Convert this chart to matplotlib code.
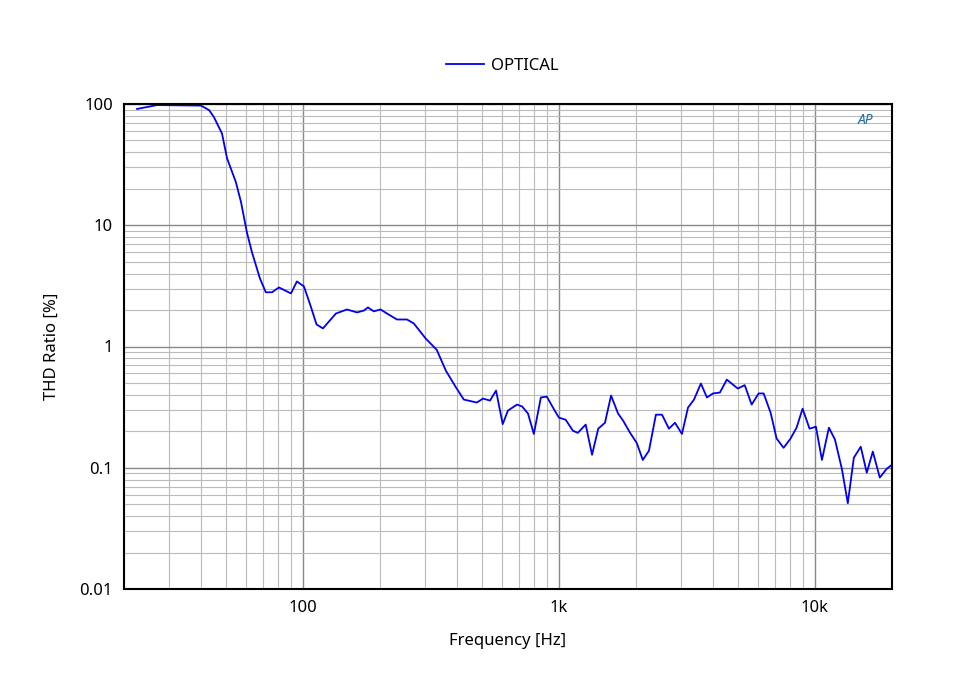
import matplotlib
matplotlib.use("Agg")
import matplotlib.pyplot as plt
from matplotlib.ticker import FixedLocator, LogLocator, NullFormatter, FixedFormatter

freq = [22.5, 26.9, 40, 43, 44.9, 48.3, 50.5, 54.7, 57.3, 60.4, 63.2, 67.9, 71.6, 75.7, 80.6,
        89.8, 94.7, 100.9, 107, 113, 119.7, 134.5, 148.6, 162.7, 173, 179.5, 189, 201, 213,
        233, 255, 271, 302, 333, 362, 396, 425, 478, 505, 538, 568, 603, 632, 686, 718, 757,
        798, 850, 897, 948, 1000, 1062, 1134, 1185, 1272, 1347, 1424, 1513, 1598, 1702, 1780,
        1894, 2014, 2126, 2247, 2392, 2526, 2690, 2840, 3024, 3192, 3370, 3585, 3785, 3996,
        4253, 4527, 4997, 5317, 5660, 6026, 6304, 6710, 7085, 7542, 8029, 8477, 8949, 9526,
        10090, 10650, 11340, 11970, 12740, 13440, 14190, 15100, 15940, 16830, 17920, 19070, 20000]
thd = [91, 98, 97, 89, 78, 57, 35.8, 22.7, 15.5, 8.75, 6.0, 3.65, 2.8, 2.8, 3.07,
       2.74, 3.44, 3.13, 2.18, 1.52, 1.41, 1.87, 2.02, 1.91, 1.98, 2.1, 1.95, 2.02, 1.87,
       1.67, 1.67, 1.55, 1.16, 0.94, 0.63, 0.46, 0.365, 0.345, 0.372, 0.358, 0.433, 0.229, 0.296, 0.332, 0.32, 0.28,
       0.19, 0.38, 0.386, 0.313, 0.259, 0.249, 0.202, 0.194, 0.227, 0.128, 0.21, 0.235, 0.394, 0.28, 0.245,
       0.195, 0.16, 0.116, 0.138, 0.274, 0.274, 0.21, 0.235, 0.19, 0.313, 0.365, 0.495, 0.38, 0.41,
       0.417, 0.533, 0.45, 0.48, 0.332, 0.41, 0.41, 0.285, 0.174, 0.146, 0.174, 0.214, 0.307, 0.21,
       0.218, 0.116, 0.214, 0.171, 0.098, 0.051, 0.121, 0.149, 0.091, 0.136, 0.083, 0.098, 0.106]

xticks = [100, 1000, 10000]
xlabels = ["100", "1k", "10k"]
yticks = [0.01, 0.1, 1, 10, 100]
ylabels = ["0.01", "0.1", "1", "10", "100"]

plt.rcParams['font.family'] = ['Noto Sans', 'DejaVu Sans']
fig = plt.figure(figsize=(9.6, 6.8), dpi=100)
ax = fig.add_axes([124/960, 1-589/680, 768/960, 485/680])
ax.set_xscale('log'); ax.set_yscale('log')
ax.set_xlim(20, 20000); ax.set_ylim(0.01, 100)
ax.plot(freq, thd, color='#0000ee', lw=1.3, label='OPTICAL')
ax.xaxis.set_major_locator(FixedLocator(xticks))
ax.xaxis.set_major_formatter(FixedFormatter(xlabels))
ax.yaxis.set_major_locator(FixedLocator(yticks))
ax.yaxis.set_major_formatter(FixedFormatter(ylabels))
ax.xaxis.set_minor_locator(LogLocator(base=10, subs=range(2, 10)))
ax.yaxis.set_minor_locator(LogLocator(base=10, subs=range(2, 10)))
ax.xaxis.set_minor_formatter(NullFormatter()); ax.yaxis.set_minor_formatter(NullFormatter())
ax.grid(which='major', color='#888888', lw=1.0)
ax.grid(which='minor', color='#bbbbbb', lw=0.8)
ax.tick_params(which='both', length=0, labelsize=12, pad=8)
for s in ax.spines.values():
    s.set_linewidth(1.5); s.set_color('black')
ax.set_xlabel('Frequency [Hz]', fontsize=12, labelpad=12)
ax.set_ylabel('THD Ratio [%]', fontsize=12, labelpad=14)
ax.text(0.965, 0.965, 'AP', transform=ax.transAxes, ha='center', va='center',
        fontsize=10, color='#1a6fa8', style='italic', fontweight='bold')
fig.legend(loc='center', bbox_to_anchor=(0.523, 1-66/680), frameon=False, fontsize=12,
           handlelength=2.3, handletextpad=0.4)
fig.savefig('out.png', dpi=100)
